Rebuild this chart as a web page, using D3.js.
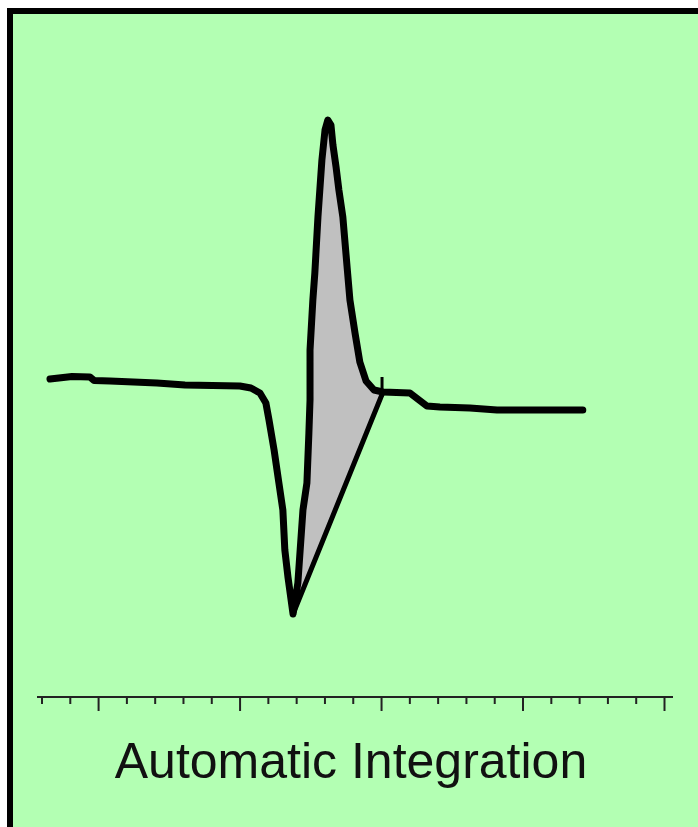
<!DOCTYPE html>
<html>
<head>
<meta charset="utf-8">
<script src="https://cdn.jsdelivr.net/npm/d3@7/dist/d3.min.js"></script>
<style>
  html, body { margin: 0; padding: 0; background: #ffffff; }
  svg { display: block; }
</style>
</head>
<body>
<div id="chart"></div>
<script>
// ---- data (time in minor-tick units, signal in arbitrary units) ----
const times = [-1.70, -0.92, -0.29, -0.14, 0.42, 2.08, 3.07, 5.01, 5.40, 5.72, 5.93, 6.04, 6.22, 6.39, 6.53, 6.60, 6.71, 6.89,
  7.06, 7.24, 7.38, 7.45, 7.49, 7.49, 7.59, 7.66, 7.77, 7.91, 8.02, 8.12, 8.23, 8.30, 8.41, 8.51, 8.65, 8.80, 8.90, 9.08, 9.25,
  9.47, 9.75, 10.07, 11.02, 11.62, 12.08, 13.14, 14.10, 17.13];
const signal = [1, 3.5, 3, -0.5, -1, -3, -5, -6, -8, -13, -23, -40, -70, -103, -130, -170, -197, -234,
  -203, -130, -103, -53, -20, 30, 80, 107, 163, 220, 250, 260, 255, 235, 213, 190, 163, 113, 80, 47, 18,
  -1, -10, -12, -13, -26, -27, -28, -30, -30];
const integrationStart = 6.89;   // dip minimum
const integrationEnd = 10.07;    // end marker
const tickValues = d3.range(-2, 21, 1);
const majorTicks = [0, 5, 10, 15, 20];
const title = "Automatic Integration";

const W = 698, H = 827;
const svg = d3.select("#chart").append("svg").attr("width", W).attr("height", H);

// frame
svg.append("rect").attr("x", 10).attr("y", 11).attr("width", 720).attr("height", 840)
  .attr("fill", "#b3ffb3").attr("stroke", "#000").attr("stroke-width", 6);

const x = d3.scaleLinear().domain([-2, 20]).range([41.5, 664]);
const y = d3.scaleLinear().domain([-300, 300]).range([680, 80]);

const data = times.map((t, i) => ({ t, v: signal[i] }));

// shaded integration area
const areaPts = data.filter(d => d.t >= integrationStart && d.t <= integrationEnd);
const line = d3.line().x(d => x(d.t)).y(d => y(d.v));
svg.append("path").attr("d", line(areaPts) + "Z")
  .attr("fill", "#c0c0c0").attr("stroke", "none");

// integration baseline
const p0 = areaPts[0], p1 = areaPts[areaPts.length - 1];
svg.append("line").attr("x1", x(p0.t)).attr("y1", y(p0.v)).attr("x2", x(p1.t)).attr("y2", y(p1.v))
  .attr("stroke", "#000").attr("stroke-width", 5).attr("stroke-linecap", "round");

// signal
svg.append("path").attr("d", line(data))
  .attr("fill", "none").attr("stroke", "#000").attr("stroke-width", 7)
  .attr("stroke-linejoin", "round").attr("stroke-linecap", "round");

// end marker
svg.append("line").attr("x1", x(integrationEnd) - 1).attr("x2", x(integrationEnd) - 1)
  .attr("y1", y(3)).attr("y2", y(-17))
  .attr("stroke", "#000").attr("stroke-width", 3);

// axis
const axisY = 697;
const axis = d3.axisBottom(x).tickValues(tickValues).tickFormat("").tickSizeOuter(0)
  .tickSizeInner(7);
const g = svg.append("g").attr("transform", `translate(0,${axisY})`).call(axis);
g.select(".domain").remove();
g.append("line").attr("x1", 37).attr("x2", 673).attr("stroke", "#222").attr("stroke-width", 2);
g.selectAll(".tick line").attr("stroke", "#222").attr("stroke-width", 2)
  .attr("y2", d => majorTicks.includes(d) ? 14 : 7);

// title
svg.append("text").attr("x", 351).attr("y", 778).attr("text-anchor", "middle")
  .attr("font-family", "Liberation Sans, Arial, sans-serif").attr("font-size", 50)
  .attr("fill", "#111").text(title);
</script>
</body>
</html>
